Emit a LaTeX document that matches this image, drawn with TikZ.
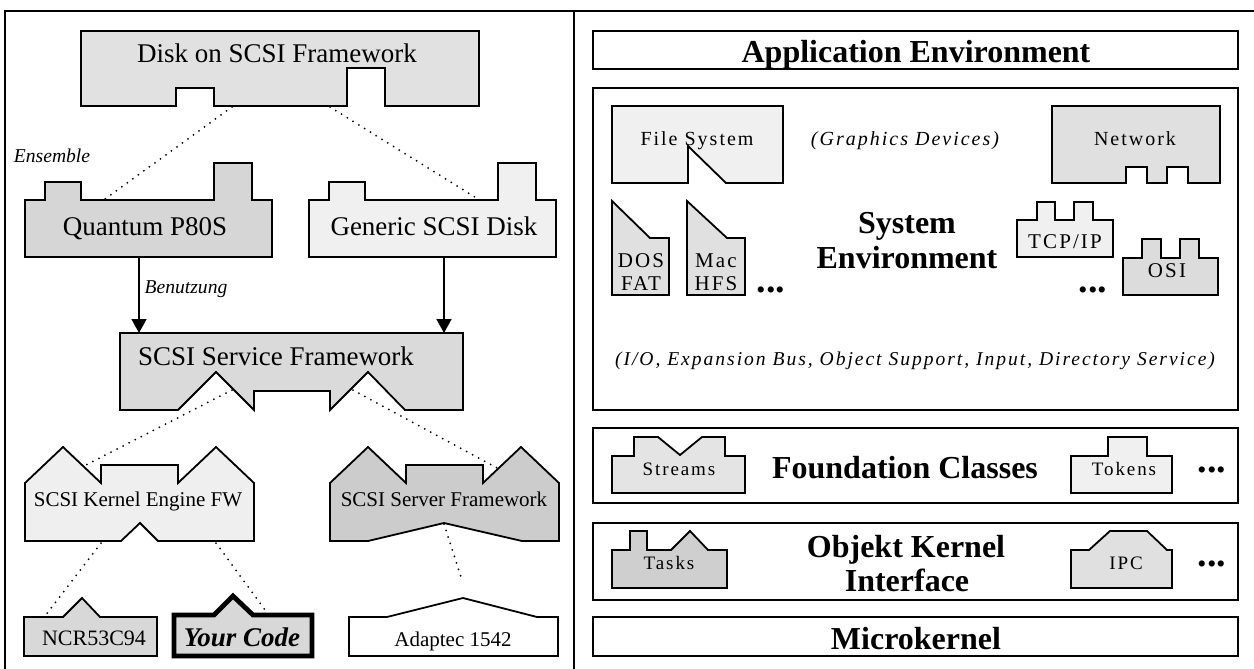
\documentclass[tikz,border=0pt]{standalone}
\usepackage{fontspec}
\setmainfont{Liberation Serif}
\newfontfamily\trackfont{Liberation Serif}[LetterSpace=10]
\usetikzlibrary{arrows.meta}

\definecolor{cDisk}{HTML}{E1E1E1}
\definecolor{cQuantum}{HTML}{D6D6D6}
\definecolor{cGeneric}{HTML}{F0F0F0}
\definecolor{cService}{HTML}{DADADA}
\definecolor{cKernel}{HTML}{EFEFEF}
\definecolor{cServer}{HTML}{CCCCCC}
\definecolor{cNCR}{HTML}{D8D8D8}
\definecolor{cFS}{HTML}{F0F0F0}
\definecolor{cNet}{HTML}{E0E0E0}
\definecolor{cDOS}{HTML}{E0E0E0}
\definecolor{cTCP}{HTML}{F0F0F0}
\definecolor{cOSI}{HTML}{DCDCDC}
\definecolor{cStreams}{HTML}{E4E4E4}
\definecolor{cTokens}{HTML}{F0F0F0}
\definecolor{cTasks}{HTML}{CFCFCF}
\definecolor{cIPC}{HTML}{E0E0E0}

\begin{document}
\begin{tikzpicture}[x=0.5pt,y=-0.5pt,
  part/.style={draw=black,line width=0.9pt,line join=miter},
  layer/.style={draw=black,line width=0.9pt,fill=white},
  frameline/.style={line width=0.7pt},
  dotlink/.style={line width=1pt,line cap=round,dash pattern=on 0pt off 3.4pt},
  usearrow/.style={line width=0.8pt,-{Triangle[length=7pt,width=7.5pt]}},
  lbl/.style={inner sep=0pt,anchor=base},
  txtbig/.style={lbl,font=\fontsize{13.5}{15}\selectfont},
  txtmid/.style={lbl,font=\fontsize{10.5}{12}\selectfont},
  txtnote/.style={lbl,font=\fontsize{9.8}{11}\selectfont\itshape},
  txthead/.style={lbl,font=\fontsize{16}{17}\selectfont\bfseries},
  txttrack/.style={lbl,font=\fontsize{10}{12}\selectfont\trackfont},
  txtsmall/.style={lbl,font=\fontsize{9.5}{11}\selectfont\trackfont},
  txtcell/.style={lbl,font=\fontsize{10.5}{12}\selectfont\trackfont},
  txtdots/.style={inner sep=0pt,font=\fontsize{19}{20}\selectfont\bfseries},
]
\useasboundingbox (0,0) rectangle (1254,669);

% outer frame and panel divider
\draw[frameline] (5,669) -- (5,11) -- (1254,11);
\draw[frameline] (574,11) -- (574,669);

% ---------------- left panel: SCSI frameworks ----------------
\draw[part,fill=cDisk] (81,31) -- (479,31) -- (479,106) -- (385,106) -- (385,68) -- (347,68)
  -- (347,106) -- (214,106) -- (214,88) -- (176,88) -- (176,106) -- (81,106) -- cycle;
\node[txtbig] (disk) at (277,62) {Disk on SCSI Framework};

\node[txtnote] (ensemble) at (52,162) {Ensemble};

\draw[part,fill=cQuantum] (25,257) -- (25,200) -- (45,200) -- (45,182) -- (81,182) -- (81,200)
  -- (214,200) -- (214,163) -- (252,163) -- (252,200) -- (272,200) -- (272,257) -- cycle;
\node[txtbig] (quantum) at (145,235) {Quantum P80S};

\draw[part,fill=cGeneric] (309,257) -- (309,200) -- (329,200) -- (329,182) -- (365,182) -- (365,200)
  -- (498,200) -- (498,163) -- (536,163) -- (536,200) -- (556,200) -- (556,257) -- cycle;
\node[txtbig] (generic) at (434,235) {Generic SCSI Disk};

\draw[part,fill=cService] (120,333) -- (463,333) -- (463,410) -- (405,410) -- (368,372) -- (330,410)
  -- (330,391) -- (254,391) -- (254,410) -- (216,372) -- (178,410) -- (120,410) -- cycle;
\node[txtbig] (service) at (276,365) {SCSI Service Framework};

\node[txtnote] (benutzung) at (186,293) {Benutzung};

\draw[part,fill=cKernel] (25,541) -- (25,483) -- (63,447) -- (101,483) -- (101,465) -- (178,465)
  -- (178,483) -- (216,447) -- (254,483) -- (254,541) -- (158,541) -- (140,523) -- (121,541) -- cycle;
\node[txtmid] (kernel) at (138,506) {SCSI Kernel Engine FW};

\draw[part,fill=cServer] (330,541) -- (330,483) -- (368,447) -- (406,483) -- (406,465) -- (483,465)
  -- (483,483) -- (521,447) -- (559,483) -- (559,541) -- (522,541) -- (444,523) -- (368,541) -- cycle;
\node[txtmid] (server) at (444,506) {SCSI Server Framework};

\draw[part,fill=cNCR] (24,656) -- (24,617) -- (63,617) -- (82,598) -- (100,617) -- (157,617)
  -- (157,656) -- cycle;
\node[lbl,font=\fontsize{11}{13}\selectfont] (ncr) at (94,645) {NCR53C94};

\draw[part,fill=cNCR,line width=2.4pt] (174,656) -- (174,615) -- (214,615) -- (233,596) -- (253,615)
  -- (312,615) -- (312,656) -- cycle;
\node[lbl,font=\fontsize{13.5}{15}\selectfont\bfseries\itshape] (yourcode) at (242,646) {Your Code};

\draw[part,fill=white] (349,656) -- (349,617) -- (387,617) -- (463,598) -- (537,617) -- (558,617)
  -- (558,656) -- cycle;
\node[lbl,font=\fontsize{10.5}{12}\selectfont] (adaptec) at (453,646) {Adaptec 1542};

% connection points on the outlines
\coordinate (diskL) at (232,107);
\coordinate (diskR) at (330,107);
\coordinate (quantumTop) at (105,199);
\coordinate (genericTop) at (478,199);
\coordinate (quantumBot) at (139,258);
\coordinate (genericBot) at (444,258);
\coordinate (serviceInL) at (139,333);
\coordinate (serviceInR) at (444,333);
\coordinate (serviceL) at (232,390);
\coordinate (serviceR) at (353,390);
\coordinate (kernelTop) at (84,466);
\coordinate (serverTop) at (497,468);
\coordinate (kernelBotL) at (101,543);
\coordinate (kernelBotR) at (216,543);
\coordinate (ncrTop) at (45,616);
\coordinate (codeTop) at (268,614);
\coordinate (serverBot) at (444,524);
\coordinate (adaptecTop) at (462,580);

\draw[dotlink] (diskL) -- (quantumTop);
\draw[dotlink] (diskR) -- (genericTop);
\draw[usearrow] (quantumBot) -- (serviceInL);
\draw[usearrow] (genericBot) -- (serviceInR);
\draw[dotlink] (serviceL) -- (kernelTop);
\draw[dotlink] (serviceR) -- (serverTop);
\draw[dotlink] (kernelBotL) -- (ncrTop);
\draw[dotlink] (kernelBotR) -- (codeTop);
\draw[dotlink] (serverBot) -- (adaptecTop);

% ---------------- right panel: layered system ----------------
\draw[layer] (593,31) rectangle (1238,69);
\node[txthead] (appenv) at (916,62) {Application Environment};

\draw[layer] (593,88) rectangle (1238,410);

\draw[part,fill=cFS] (612,106) -- (783,106) -- (783,183) -- (726,183) -- (688,146) -- (688,183)
  -- (612,183) -- cycle;
\node[txttrack] (filesys) at (697,145) {File System};

\node[txttrack,font=\fontsize{10}{12}\selectfont\trackfont\itshape] (graphics) at (905,145) {(Graphics Devices)};

\draw[part,fill=cNet] (1052,106) -- (1220,106) -- (1220,183) -- (1188,183) -- (1188,167) -- (1167,167)
  -- (1167,183) -- (1147,183) -- (1147,167) -- (1126,167) -- (1126,183) -- (1052,183) -- cycle;
\node[txttrack] (network) at (1135,145) {Network};

\draw[part,fill=cDOS] (612,201) -- (650,238) -- (669,238) -- (669,295) -- (612,295) -- cycle;
\node[txtcell] (dos) at (641,267) {DOS};
\node[txtcell] (fat) at (641,290) {FAT};

\draw[part,fill=cDOS] (687,201) -- (727,238) -- (745,238) -- (745,295) -- (687,295) -- cycle;
\node[txtcell] (mac) at (716,267) {Mac};
\node[txtcell] (hfs) at (716,290) {HFS};

\node[txtdots] (moreFS) at (771,290) {...};

\node[txthead] (sysenv1) at (907,233) {System};
\node[txthead] (sysenv2) at (907,268) {Environment};

\draw[part,fill=cTCP] (1017,257) -- (1017,220) -- (1037,220) -- (1037,202) -- (1055,202) -- (1055,220)
  -- (1074,220) -- (1074,202) -- (1093,202) -- (1093,220) -- (1113,220) -- (1113,257) -- cycle;
\node[txtcell] (tcp) at (1065,248) {TCP/IP};

\draw[part,fill=cOSI] (1123,295) -- (1123,258) -- (1142,258) -- (1142,239) -- (1161,239) -- (1161,258)
  -- (1180,258) -- (1180,239) -- (1199,239) -- (1199,258) -- (1218,258) -- (1218,295) -- cycle;
\node[txtcell] (osi) at (1167,277) {OSI};

\node[txtdots] (moreNet) at (1093,290) {...};

\node[lbl,font=\fontsize{9.8}{12}\selectfont\trackfont\itshape] (services) at (915,365)
  {(I/O, Expansion Bus, Object Support, Input, Directory Service)};

% foundation classes
\draw[layer] (593,428) rectangle (1238,503);
\draw[part,fill=cStreams] (612,493) -- (612,456) -- (634,456) -- (634,437) -- (658,437) -- (680,455)
  -- (702,437) -- (725,437) -- (725,456) -- (745,456) -- (745,493) -- cycle;
\node[txtsmall] (streams) at (679,475) {Streams};
\node[txthead] (foundation) at (905,478) {Foundation Classes};
\draw[part,fill=cTokens] (1071,493) -- (1071,456) -- (1108,456) -- (1108,437) -- (1147,437)
  -- (1147,456) -- (1172,456) -- (1172,493) -- cycle;
\node[txtsmall] (tokens) at (1124,475) {Tokens};
\node[txtdots] (moreFC) at (1212,470) {...};

% object kernel interface
\draw[layer] (593,523) rectangle (1238,600);
\draw[part,fill=cTasks] (612,588) -- (612,550) -- (630,550) -- (630,531) -- (647,531) -- (647,550)
  -- (671,550) -- (690,531) -- (708,550) -- (727,550) -- (727,588) -- cycle;
\node[txtsmall] (tasks) at (669,569) {Tasks};
\node[txthead] (objkern1) at (906,557) {Objekt Kernel};
\node[txthead] (objkern2) at (907,591) {Interface};
\draw[part,fill=cIPC] (1071,588) -- (1071,550) -- (1089,550) -- (1110,531) -- (1147,531) -- (1167,550)
  -- (1172,550) -- (1172,588) -- cycle;
\node[txtsmall] (ipc) at (1126,569) {IPC};
\node[txtdots] (moreOK) at (1212,564) {...};

% microkernel
\draw[layer] (593,617) rectangle (1238,656);
\node[txthead] (micro) at (916,649) {Microkernel};

\end{tikzpicture}
\end{document}
